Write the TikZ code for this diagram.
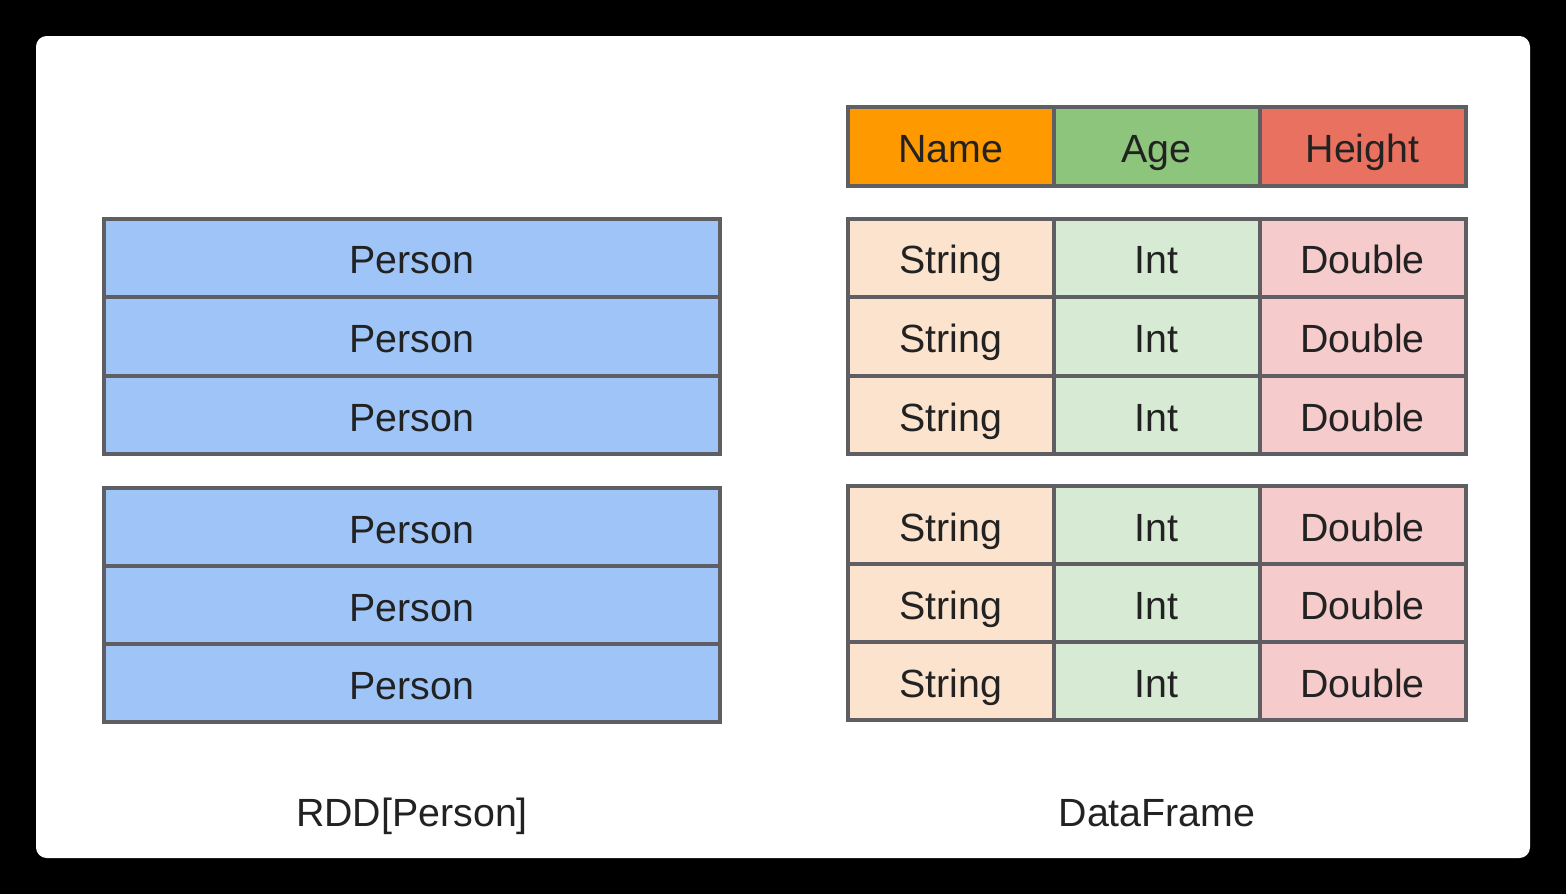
\documentclass[tikz,border=0pt]{standalone}
\usepackage{fontspec}
\setmainfont{Liberation Sans}
\definecolor{frame}{HTML}{5F5F63}
\definecolor{txt}{HTML}{222222}
\definecolor{rddblue}{HTML}{9FC5F8}
\definecolor{hname}{HTML}{FF9900}
\definecolor{hage}{HTML}{8DC57C}
\definecolor{hheight}{HTML}{E8715F}
\definecolor{cname}{HTML}{FCE3CD}
\definecolor{cage}{HTML}{D7EAD4}
\definecolor{cheight}{HTML}{F6CBCC}
\tikzset{
  label font/.style={text=txt, font=\fontsize{29.5}{31}\selectfont,
    text height=21.1pt, text depth=0pt, yshift=-1.5pt},
  cell/.style={draw=frame, line width=3pt, rectangle, inner sep=0pt},
  rddrow/.style={cell, fill=rddblue, minimum width=462pt, minimum height=58.8pt},
  dfcell/.style={cell, minimum width=154.5pt, minimum height=58.8pt},
  caption/.style={label font, inner sep=0pt}
}
\begin{document}
\begin{tikzpicture}[x=0.75pt,y=-0.75pt]
  % page and card
  \fill[black] (0,0) rectangle (1566,894);
  \fill[white, rounded corners=8pt] (36,36) rectangle (1530,858);
  \useasboundingbox (0,0) rectangle (1566,894);

  % RDD[Person]: two partitions of three rows
  \foreach \i/\y in {1/257.7, 2/336.3, 3/415} {
    \node[rddrow] (pa\i) at (412,\y) {};
    \node[label font] at (pa\i) {Person};
  }
  \foreach \i/\y in {1/527.3, 2/605, 3/683} {
    \node[rddrow] (pb\i) at (412,\y) {};
    \node[label font] at (pb\i) {Person};
  }
  \node[caption] (rddlabel) at (412,810) {RDD[Person]};

  % DataFrame header
  \node[dfcell, fill=hname]   (hn) at (951,146.5)  {};
  \node[dfcell, fill=hage]    (ha) at (1156.5,146.5) {};
  \node[dfcell, fill=hheight] (hh) at (1362.5,146.5) {};
  \node[label font] at (hn) {Name};
  \node[label font] at (ha) {Age};
  \node[label font] at (hh) {Height};

  % DataFrame rows
  \foreach \i/\y in {1/257.7, 2/336.3, 3/415, 4/525.3, 5/603, 6/681} {
    \node[dfcell, fill=cname]   (s\i) at (951,\y)    {};
    \node[dfcell, fill=cage]    (n\i) at (1156.5,\y) {};
    \node[dfcell, fill=cheight] (d\i) at (1362.5,\y) {};
    \node[label font] at (s\i) {String};
    \node[label font] at (n\i) {Int};
    \node[label font] at (d\i) {Double};
  }
  \node[caption] (dflabel) at (1157,810) {DataFrame};
\end{tikzpicture}
\end{document}
